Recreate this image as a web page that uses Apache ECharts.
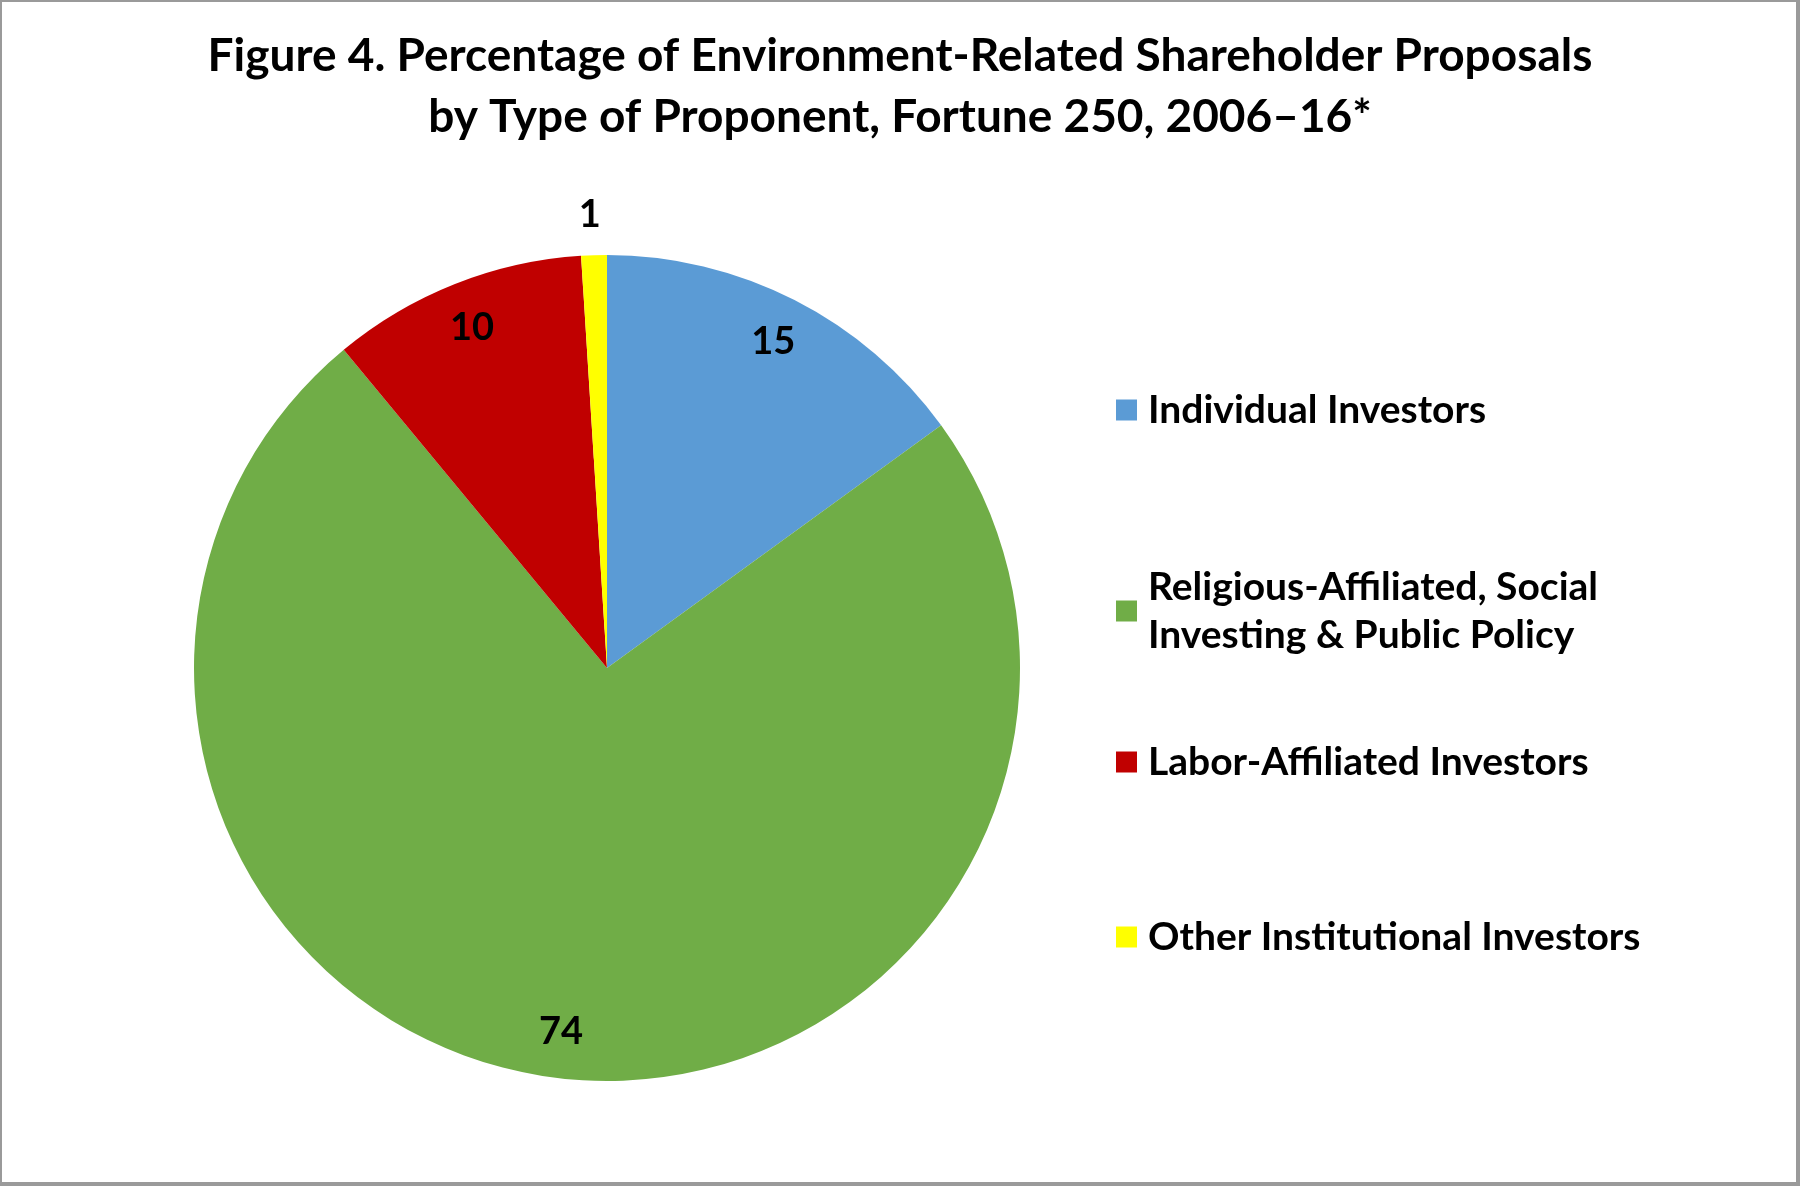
<!DOCTYPE html>
<html>
<head>
<meta charset="utf-8">
<script src="https://cdn.jsdelivr.net/npm/echarts@6/dist/echarts.min.js"></script>
<style>
  html, body { margin: 0; padding: 0; background: #fff; }
  #chart { position: absolute; left: 0; top: 0; width: 1800px; height: 1186px; }
  #frame {
    position: absolute; left: 0; top: 0; width: 1800px; height: 1186px;
    box-sizing: border-box; pointer-events: none;
    border-style: solid; border-color: #9a9a9a;
    border-width: 2px 4px 4px 2px;
  }
</style>
</head>
<body>
<div id="chart"></div>
<div id="frame"></div>
<script>
// data (percent of proposals)
var proponents = [
    'Individual Investors',
    'Religious-Affiliated, Social\nInvesting & Public Policy',
    'Labor-Affiliated Investors',
    'Other Institutional Investors'
];
var shares = [15, 74, 10, 1];
var sliceColors = ['#5B9BD5', '#70AD47', '#C00000', '#FFFF00'];

var font = 'Lato, "Open Sans", sans-serif';
var center = [607, 668];
var radius = 413;

var pieData = proponents.map(function (name, i) {
    return { name: name, value: shares[i], itemStyle: { color: sliceColors[i] } };
});

// labels sit near the rim, the tiny slice gets its label outside
var labelData = proponents.map(function (name, i) {
    var item = { name: name, value: shares[i] };
    if (shares[i] < 3) {
        item.label = { position: 'outside', distanceToLabelLine: -8 };
        item.labelLine = { show: false, length: 40, length2: 0 };
    }
    return item;
});

// one legend per entry so the rows can be spaced like the original
var legendTops = [386, 563, 738, 913];
var legends = proponents.map(function (name, i) {
    return {
        data: [name],
        orient: 'vertical',
        left: 1116,
        top: legendTops[i],
        padding: 0,
        itemWidth: 21,
        itemHeight: 21,
        icon: 'rect',
        selectedMode: false,
        textStyle: {
            fontFamily: font,
            fontWeight: 'bold',
            fontSize: 39,
            lineHeight: 48,
            color: '#000',
            padding: [0, 0, 0, 6]
        }
    };
});

var chart = echarts.init(document.getElementById('chart'));
chart.setOption({
    animation: false,
    backgroundColor: '#fff',
    title: {
        text: 'Figure 4. Percentage of Environment-Related Shareholder Proposals\nby Type of Proponent, Fortune 250, 2006\u201316*',
        left: 'center',
        top: 26,
        padding: 0,
        textStyle: {
            fontFamily: font,
            fontWeight: 'bold',
            fontSize: 46,
            lineHeight: 61,
            color: '#000'
        }
    },
    legend: legends,
    series: [
        {
            type: 'pie',
            center: center,
            radius: [0, radius],
            startAngle: 90,
            clockwise: true,
            avoidLabelOverlap: false,
            label: { show: false },
            labelLine: { show: false },
            emphasis: { disabled: true },
            data: pieData
        },
        {
            type: 'pie',
            center: center,
            radius: [radius * 0.76, radius],
            startAngle: 90,
            clockwise: true,
            silent: true,
            avoidLabelOverlap: false,
            itemStyle: { color: 'rgba(0,0,0,0)' },
            label: {
                show: true,
                position: 'inside',
                formatter: '{c}',
                fontFamily: font,
                fontWeight: 'bold',
                fontSize: 38,
                color: '#000'
            },
            labelLine: { show: false },
            emphasis: { disabled: true },
            data: labelData
        }
    ]
});
</script>
</body>
</html>
